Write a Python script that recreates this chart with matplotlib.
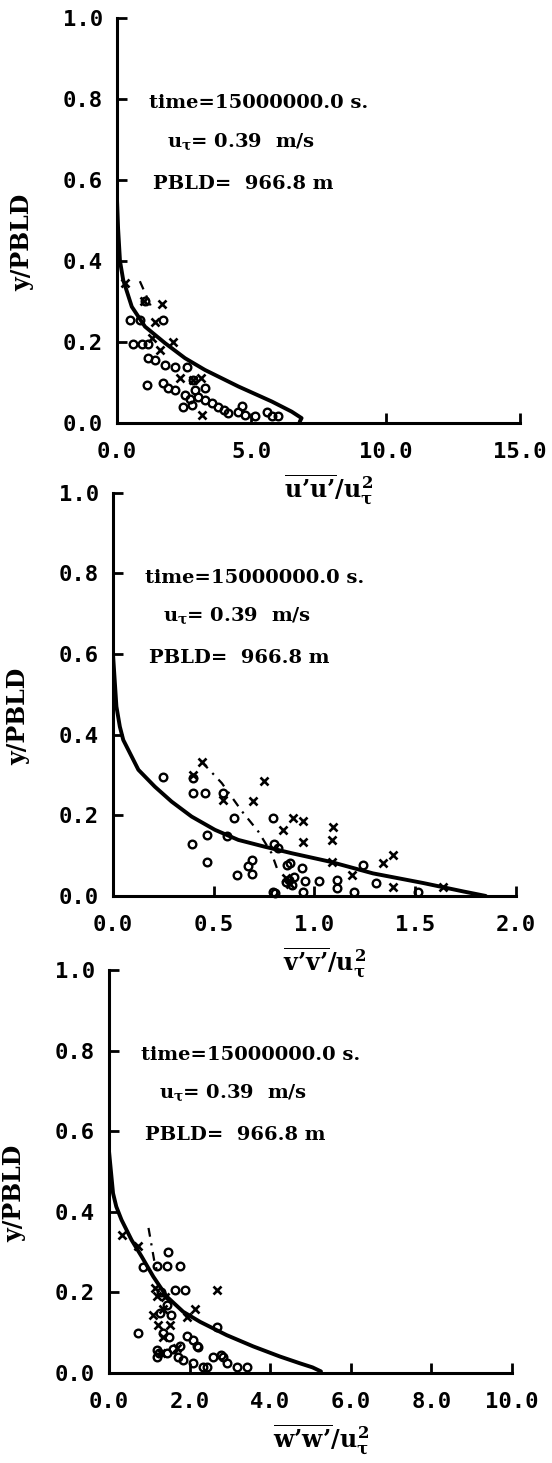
import numpy as np
import matplotlib
matplotlib.use("Agg")
import matplotlib.pyplot as plt
from matplotlib.ticker import FormatStrFormatter

plt.rcParams['mathtext.fontset'] = 'custom'
plt.rcParams['mathtext.rm'] = 'DejaVu Serif:bold'
plt.rcParams['mathtext.it'] = 'DejaVu Serif:bold'
plt.rcParams['mathtext.bf'] = 'DejaVu Serif:bold'

# panel 1 : u'u'/u*^2
uu_curve_x = [0.0, 0.04, 0.11, 0.23, 0.55, 1.04, 1.79, 2.53, 3.27, 4.52, 5.76, 6.50, 6.87, 6.80]
uu_curve_y = [0.55, 0.48, 0.40, 0.353, 0.287, 0.238, 0.197, 0.16, 0.131, 0.09, 0.053, 0.028, 0.012, 0.003]
uu_dash_x = [0.85, 1.05, 1.25]
uu_dash_y = [0.35, 0.32, 0.29]
uu_circ_x = [1.04, 0.48, 0.86, 1.72, 0.61, 0.92, 1.17, 1.17, 1.41, 1.79, 2.16, 2.59, 1.10, 1.72,
             1.91, 2.16, 2.84, 2.53, 2.90, 3.27, 2.47, 2.78, 3.27, 3.52, 3.77, 4.14, 4.64, 4.76,
             5.14, 5.57, 5.76, 6.00, 4.52, 4.0, 3.0, 2.7]
uu_circ_y = [0.30, 0.253, 0.253, 0.253, 0.195, 0.195, 0.196, 0.16, 0.156, 0.143, 0.137, 0.137, 0.094, 0.098,
             0.086, 0.081, 0.106, 0.069, 0.081, 0.086, 0.040, 0.044, 0.057, 0.049, 0.040, 0.024, 0.042, 0.020,
             0.016, 0.028, 0.016, 0.018, 0.028, 0.033, 0.065, 0.058]
uu_x_x = [0.30, 1.69, 1.41, 2.10, 1.60, 2.35, 2.84, 3.15, 3.13, 1.0, 1.3]
uu_x_y = [0.345, 0.294, 0.25, 0.201, 0.18, 0.11, 0.106, 0.02, 0.11, 0.30, 0.21]

# panel 2 : v'v'/u*^2
vv_curve_x = [0.0, 0.017, 0.034, 0.051, 0.126, 0.208, 0.291, 0.39, 0.506, 0.622, 0.754, 0.887,
              1.077, 1.29, 1.54, 1.74, 1.85]
vv_curve_y = [0.6, 0.47, 0.42, 0.387, 0.313, 0.271, 0.234, 0.197, 0.164, 0.139, 0.122, 0.106,
              0.085, 0.056, 0.032, 0.011, 0.0]
vv_dash_x = [0.44, 0.54, 0.64, 0.721, 0.787, 0.82]
vv_dash_y = [0.333, 0.28, 0.21, 0.16, 0.106, 0.06]
vv_circ_x = [0.25, 0.398, 0.398, 0.456, 0.547, 0.602, 0.795, 0.465, 0.394, 0.564, 0.465, 0.688,
             0.671, 0.688, 0.614, 0.862, 0.795, 0.936, 0.953, 0.945, 1.023, 1.111, 1.111, 1.198,
             1.242, 1.304, 1.514, 0.804, 0.875, 0.89, 0.90, 0.878, 0.82, 0.86, 0.80]
vv_circ_y = [0.296, 0.292, 0.255, 0.255, 0.256, 0.193, 0.193, 0.151, 0.129, 0.149, 0.083, 0.088,
             0.075, 0.055, 0.052, 0.077, 0.011, 0.069, 0.036, 0.011, 0.036, 0.040, 0.019, 0.011,
             0.077, 0.031, 0.011, 0.007, 0.040, 0.027, 0.048, 0.081, 0.12, 0.035, 0.13]
vv_x_x = [0.44, 0.398, 0.547, 0.696, 0.751, 0.845, 0.895, 0.945, 1.093, 1.085, 0.945, 1.085,
          1.184, 1.342, 1.391, 1.391, 1.64, 0.86, 0.88]
vv_x_y = [0.333, 0.30, 0.238, 0.235, 0.284, 0.164, 0.193, 0.185, 0.172, 0.139, 0.135, 0.085,
          0.052, 0.081, 0.102, 0.023, 0.023, 0.045, 0.03]

# panel 3 : w'w'/u*^2
ww_curve_x = [0.0, 0.1, 0.18, 0.31, 0.56, 0.81, 1.10, 1.43, 1.84, 2.26, 2.92, 3.58, 4.24, 4.74, 5.05, 5.26]
ww_curve_y = [0.55, 0.446, 0.413, 0.38, 0.33, 0.289, 0.239, 0.19, 0.152, 0.127, 0.094, 0.066, 0.041, 0.024, 0.014, 0.004]
ww_dash_x = [0.98, 1.05, 1.12, 1.2]
ww_dash_y = [0.36, 0.32, 0.28, 0.25]
ww_circ_x = [1.47, 0.85, 1.18, 1.43, 1.76, 1.64, 1.89, 2.67, 0.73, 1.27, 1.55, 1.93, 2.09, 2.18,
             2.59, 2.84, 2.92, 3.17, 3.42, 1.18, 1.18, 1.43, 1.76, 1.84, 2.09, 2.34, 2.42, 2.77,
             2.2, 1.3, 1.45, 1.35, 1.5, 1.25, 1.6, 1.7]
ww_circ_y = [0.301, 0.264, 0.266, 0.266, 0.266, 0.206, 0.206, 0.113, 0.099, 0.148, 0.144, 0.091, 0.082, 0.066,
             0.041, 0.041, 0.024, 0.016, 0.016, 0.057, 0.041, 0.049, 0.066, 0.032, 0.024, 0.016, 0.016, 0.045,
             0.065, 0.2, 0.17, 0.1, 0.09, 0.05, 0.06, 0.04]
ww_x_x = [0.31, 2.67, 2.13, 1.10, 1.22, 1.51, 0.73, 1.14, 1.39, 1.35, 1.35, 1.93, 1.68, 1.2, 1.3]
ww_x_y = [0.342, 0.206, 0.158, 0.144, 0.119, 0.119, 0.314, 0.21, 0.189, 0.16, 0.09, 0.14, 0.061, 0.19, 0.05]

yticks = [0.0, 0.2, 0.4, 0.6, 0.8, 1.0]
uu_xticks = [0.0, 5.0, 10.0, 15.0]
vv_xticks = [0.0, 0.5, 1.0, 1.5, 2.0]
ww_xticks = [0.0, 2.0, 4.0, 6.0, 8.0, 10.0]

labels = [r"$\overline{u’u’}/u_\tau^2$", r"$\overline{v’v’}/u_\tau^2$", r"$\overline{w’w’}/u_\tau^2$"]
info = ["time=15000000.0 s.", r"$u_\tau$= 0.39  m/s", "PBLD=  966.8 m"]

fig = plt.figure(figsize=(5.52, 14.63), dpi=100)
boxes = [[0.212, 0.7109, 0.730, 0.2768],
         [0.2047, 0.3876, 0.730, 0.2755],
         [0.1975, 0.0615, 0.730, 0.2755]]
panels = [
    (uu_curve_x, uu_curve_y, uu_dash_x, uu_dash_y, uu_circ_x, uu_circ_y, uu_x_x, uu_x_y, uu_xticks),
    (vv_curve_x, vv_curve_y, vv_dash_x, vv_dash_y, vv_circ_x, vv_circ_y, vv_x_x, vv_x_y, vv_xticks),
    (ww_curve_x, ww_curve_y, ww_dash_x, ww_dash_y, ww_circ_x, ww_circ_y, ww_x_x, ww_x_y, ww_xticks),
]

for i, p in enumerate(panels):
    cx, cy, dx, dy, ox, oy, xx, xy, xt = p
    ax = fig.add_axes(boxes[i])
    ax.set_facecolor('none')
    ax.plot(cx, cy, color='black', lw=2.8, solid_capstyle='round', zorder=3)
    ax.plot(dx, dy, color='black', lw=1.6, linestyle=(0, (4, 3, 1, 3)), zorder=3)
    ax.plot(ox, oy, 'o', ms=5.5, mfc='none', mec='black', mew=1.7, clip_on=False, zorder=4)
    ax.plot(xx, xy, 'x', ms=6, mec='black', mew=1.9, clip_on=False, zorder=4)

    ax.set_xlim(xt[0], xt[-1])
    ax.set_ylim(0, 1.0)
    ax.set_xticks(xt)
    ax.set_yticks(yticks)
    ax.xaxis.set_major_formatter(FormatStrFormatter('%.1f'))
    ax.yaxis.set_major_formatter(FormatStrFormatter('%.1f'))
    for lab in ax.get_xticklabels() + ax.get_yticklabels():
        lab.set_family('DejaVu Sans Mono')
        lab.set_weight('bold')
        lab.set_fontsize(16)
    ax.tick_params(direction='in', length=7, width=2, pad=14)
    ax.tick_params(axis='y', pad=10)
    for s in ['top', 'right']:
        ax.spines[s].set_visible(False)
    for s in ['left', 'bottom']:
        ax.spines[s].set_linewidth(2.2)

    ax.set_ylabel('y/PBLD', family='DejaVu Serif', weight='bold', fontsize=17)
    ax.yaxis.set_label_coords(-0.205, 0.445)
    ax.set_xlabel(labels[i], fontsize=17)
    ax.xaxis.set_label_coords(0.526, -0.122)

    ax.text(0.08, 0.79, info[0], transform=ax.transAxes, family='DejaVu Serif',
            weight='bold', fontsize=14, va='center')
    ax.text(0.125, 0.695, info[1], transform=ax.transAxes, family='DejaVu Serif',
            weight='bold', fontsize=14, va='center')
    ax.text(0.09, 0.59, info[2], transform=ax.transAxes, family='DejaVu Serif',
            weight='bold', fontsize=14, va='center')

fig.savefig('out.png', dpi=100)
